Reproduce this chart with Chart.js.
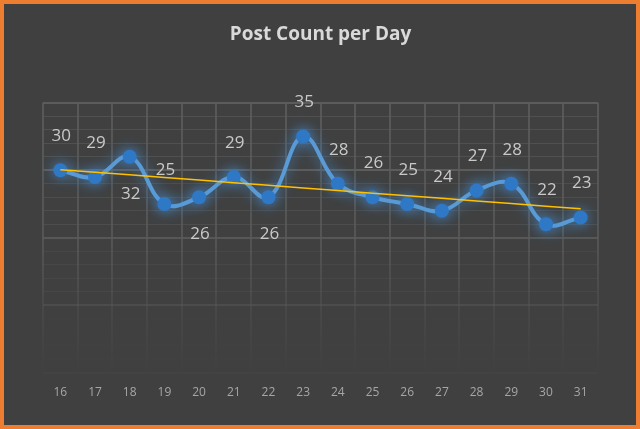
<!DOCTYPE html>
<html>
<head>
<meta charset="utf-8">
<script src="https://cdn.jsdelivr.net/npm/chart.js@4.4.1/dist/chart.umd.min.js"></script>
<style>
  html, body { margin: 0; padding: 0; background: #404040; }
  #wrap { width: 640px; height: 429px; position: relative; }
</style>
</head>
<body>
<div id="wrap"><canvas id="c" width="640" height="429"></canvas></div>
<script>
// ---- data ----
const days = ['16','17','18','19','20','21','22','23','24','25','26','27','28','29','30','31'];
const postCounts = [30, 29, 32, 25, 26, 29, 26, 35, 28, 26, 25, 24, 27, 28, 22, 23];
const labelSide = ['above','above','below','above','below','above','below','above','above','above','above','above','above','above','above','above'];
const chartTitle = 'Post Count per Day';

// linear trendline (least squares) derived from the series
function linearTrend(vals) {
  const n = vals.length;
  let sx = 0, sy = 0, sxy = 0, sxx = 0;
  vals.forEach((v, i) => { sx += i; sy += v; sxy += i * v; sxx += i * i; });
  const slope = (n * sxy - sx * sy) / (n * sxx - sx * sx);
  const icpt = (sy - slope * sx) / n;
  return vals.map((_, i) => icpt + slope * i);
}
const trendValues = linearTrend(postCounts);

const bgPlugin = {
  id: 'bg',
  beforeDraw(chart) {
    const ctx = chart.ctx;
    ctx.save();
    ctx.fillStyle = '#404040';
    ctx.fillRect(0, 0, chart.width, chart.height);
    ctx.restore();
  },
  afterDraw(chart) {
    const ctx = chart.ctx;
    ctx.save();
    ctx.strokeStyle = '#ed7d31';
    ctx.lineWidth = 4;
    ctx.strokeRect(2, 2, chart.width - 4, chart.height - 4);
    ctx.restore();
  }
};

const glowPlugin = {
  id: 'glow',
  beforeDatasetDraw(chart, args) {
    if (args.index !== 0) return;
    const ctx = chart.ctx;
    ctx.save();
    ctx.shadowColor = 'rgba(70,150,230,0.85)';
    ctx.shadowBlur = 14;
  },
  afterDatasetDraw(chart, args) {
    if (args.index !== 0) return;
    chart.ctx.restore();
  }
};

const labelPlugin = {
  id: 'valueLabels',
  afterDatasetsDraw(chart) {
    const meta = chart.getDatasetMeta(0);
    const ctx = chart.ctx;
    ctx.save();
    ctx.font = '17px "Open Sans", sans-serif';
    ctx.fillStyle = '#c9c9c9';
    ctx.textAlign = 'center';
    ctx.textBaseline = 'middle';
    meta.data.forEach((pt, i) => {
      const dy = labelSide[i] === 'below' ? 37 : -34;
      ctx.fillText(String(postCounts[i]), pt.x + 1, pt.y + dy);
    });
    ctx.restore();
  }
};

function vGridColor(ctx) {
  const chart = ctx.chart;
  const area = chart.chartArea;
  if (!area) return '#575757';
  const g = chart.ctx.createLinearGradient(0, area.top, 0, area.bottom);
  g.addColorStop(0, 'rgba(88,88,88,1)');
  g.addColorStop(0.5, 'rgba(88,88,88,0.85)');
  g.addColorStop(0.78, 'rgba(88,88,88,0.3)');
  g.addColorStop(1, 'rgba(88,88,88,0.0)');
  return g;
}

function hGridColor(ctx) {
  const v = ctx.tick ? ctx.tick.value : 0;
  const major = v % 10 === 0;
  let a;
  if (v >= 30) a = 1;
  else if (v >= 20) a = 0.85;
  else if (v >= 10) a = 0.45;
  else a = 0.12;
  if (!major) a *= 0.55;
  return 'rgba(92,92,92,' + a + ')';
}

new Chart(document.getElementById('c'), {
  type: 'line',
  data: {
    labels: days,
    datasets: [
      {
        label: 'Posts',
        data: postCounts,
        borderColor: '#5b9bd5',
        borderWidth: 4,
        tension: 0.4,
        pointRadius: 7,
        pointHoverRadius: 7,
        pointBackgroundColor: '#2e78c6',
        pointBorderColor: '#2e78c6',
        pointBorderWidth: 0,
        order: 1
      },
      {
        label: 'Trend',
        data: trendValues,
        borderColor: '#ffc000',
        borderWidth: 1.5,
        pointRadius: 0,
        tension: 0,
        order: 0
      }
    ]
  },
  options: {
    responsive: false,
    animation: false,
    layout: { padding: { left: 43, right: 42, top: 0, bottom: 16 } },
    plugins: {
      legend: { display: false },
      tooltip: { enabled: false },
      title: {
        display: true,
        text: chartTitle,
        color: '#d9d9d9',
        font: { family: '"Open Sans", sans-serif', size: 19, weight: 'bold' },
        padding: { top: 23, bottom: 57 }
      }
    },
    scales: {
      x: {
        offset: true,
        border: { display: false },
        grid: { offset: true, color: vGridColor, lineWidth: 2, drawTicks: false },
        ticks: { color: '#a6a6a6', font: { family: '"Open Sans", sans-serif', size: 12 }, padding: 13 }
      },
      y: {
        min: 0,
        max: 40,
        border: { display: false },
        grid: {
          color: hGridColor,
          lineWidth: (ctx) => (ctx.tick && ctx.tick.value % 10 === 0 ? 2 : 1),
          drawTicks: false
        },
        ticks: { display: false, stepSize: 2 }
      }
    }
  },
  plugins: [bgPlugin, glowPlugin, labelPlugin]
});
</script>
</body>
</html>
